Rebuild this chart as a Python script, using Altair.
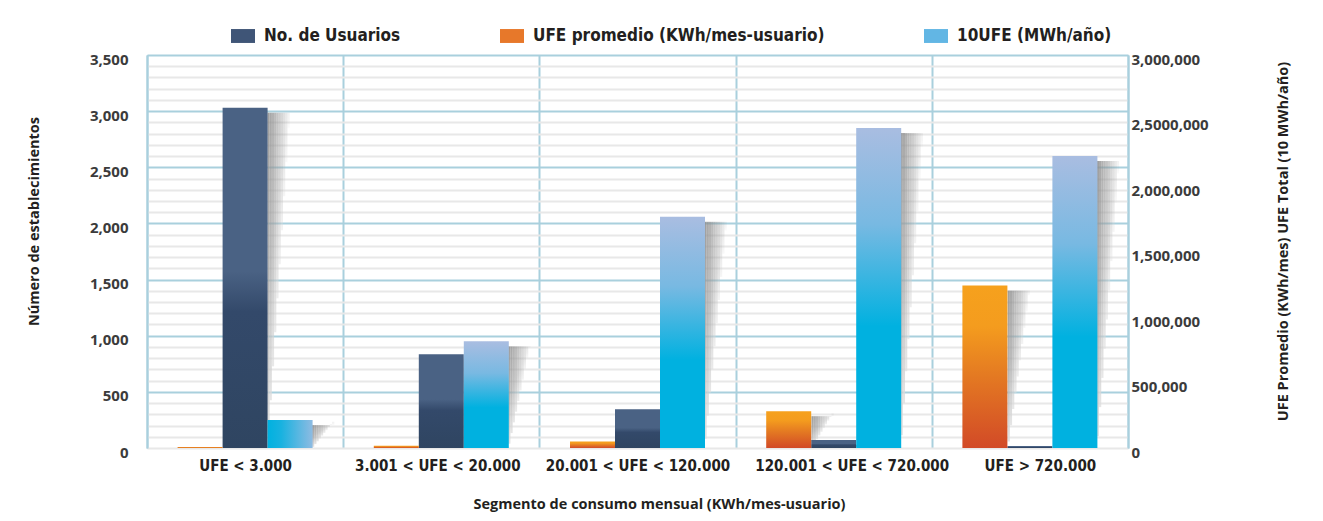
import altair as alt
import pandas as pd

categories = ["UFE < 3.000", "3.001 < UFE < 20.000", "20.001 < UFE < 120.000",
              "120.001 < UFE < 720.000", "UFE > 720.000"]
series_names = ["No. de Usuarios", "UFE promedio (KWh/mes-usuario)", "10UFE (MWh/año)"]
usuarios = [3030, 834, 346, 71, 18]
ufe_promedio = [7600, 17800, 50000, 281000, 1240000]
ufe_10 = [213000, 814000, 1765000, 2442000, 2229000]
left_ticks = list(range(0, 3501, 100))
right_ticks = [0, 500000, 1000000, 1500000, 2000000, 2500000, 3000000]
right_tick_labels = ["0", "500,000", "1,000,000", "1,500,000", "2,000,000", "2,5000,000", "3,000,000"]

rows = []
for i, c in enumerate(categories):
    rows.append({"cat": c, "series": series_names[0], "value": usuarios[i]})
    rows.append({"cat": c, "series": series_names[1], "value": ufe_promedio[i]})
    rows.append({"cat": c, "series": series_names[2], "value": ufe_10[i]})
df = pd.DataFrame(rows)

offset_order = [series_names[1], series_names[0], series_names[2]]

COND = "Liberation Sans Narrow, DejaVu Sans Condensed, Roboto, sans-serif"
REG = "Open Sans, Noto Sans, sans-serif"
BLUE_LINE = "#a9d0dd"

DARK = {"gradient": "linear", "x1": 0, "y1": 1, "x2": 0, "y2": 0,
        "stops": [{"offset": 0, "color": "#2f4561"}, {"offset": 0.4, "color": "#33496a"},
                  {"offset": 0.52, "color": "#4a6284"}, {"offset": 1, "color": "#4a6284"}]}
ORANGE = {"gradient": "linear", "x1": 0, "y1": 1, "x2": 0, "y2": 0,
          "stops": [{"offset": 0, "color": "#d24a27"}, {"offset": 0.45, "color": "#e47a22"},
                    {"offset": 0.75, "color": "#f49c1e"}, {"offset": 1, "color": "#f6a11d"}]}
BLUE = {"gradient": "linear", "x1": 0, "y1": 1, "x2": 0, "y2": 0,
        "stops": [{"offset": 0, "color": "#00b1e0"}, {"offset": 0.38, "color": "#00b1e0"},
                  {"offset": 0.7, "color": "#78b9e2"}, {"offset": 1, "color": "#a9bde1"}]}
BLUE_H = {"gradient": "linear", "x1": 0, "y1": 0, "x2": 1, "y2": 0,
          "stops": [{"offset": 0, "color": "#00b1e0"}, {"offset": 0.3, "color": "#18b2e0"},
                    {"offset": 1, "color": "#8ebbe2"}]}
SHADOW = {"gradient": "linear", "x1": 0, "y1": 0, "x2": 0, "y2": 1,
          "stops": [{"offset": 0, "color": "#8e8e8e"}, {"offset": 0.5, "color": "#a6a6a6"},
                    {"offset": 1, "color": "#dedede"}]}

label_shift = {"condition": [
    {"test": "datum.value === '" + categories[1] + "'", "value": -4},
    {"test": "datum.value === '" + categories[3] + "'", "value": 18},
    {"test": "datum.value === '" + categories[4] + "'", "value": 10}], "value": 0}

x_axis = alt.Axis(title="Segmento de consumo mensual (KWh/mes-usuario)", labelAngle=0,
                  ticks=False, domain=False, grid=True, gridColor=BLUE_LINE, gridWidth=2,
                  tickBand="extent", labelFont=COND, labelFontSize=15, labelFontWeight="bold",
                  labelColor="#231f20", labelPadding=10, labelLimit=400, labelOffset=label_shift,
                  titleFont=REG, titleFontSize=14.5,
                  titleFontWeight="bold", titleColor="#231f20", titleX=512, titleY=56,
                  titleBaseline="middle")

x_enc = alt.X("cat:N", sort=categories,
              scale=alt.Scale(domain=categories, paddingInner=0, paddingOuter=0), axis=x_axis)
xo_enc = alt.XOffset("series:N", scale=alt.Scale(domain=offset_order, paddingOuter=0.68, paddingInner=0))
slot_enc = alt.XOffset("slot:O", scale=alt.Scale(domain=list(range(88)), paddingOuter=0, paddingInner=0))
fade_enc = alt.Opacity("ks:Q", scale=alt.Scale(domain=[0, 9], range=[0.85, 0.12]), legend=None)

left_scale = alt.Scale(domain=[0, 3500], nice=False, zero=True)
right_scale = alt.Scale(domain=[0, 3000000], nice=False, zero=True)

left_axis = alt.Axis(values=left_ticks,
                     labelExpr="datum.value % 500 === 0 ? format(datum.value, ',') : ''",
                     grid=True,
                     gridColor={"condition": {"test": "datum.value % 500 === 0 && datum.value > 0",
                                              "value": BLUE_LINE}, "value": "#e8e8e8"},
                     gridWidth=2, ticks=False, domain=True, domainColor=BLUE_LINE, domainWidth=2,
                     labelFont=REG, labelFontSize=15, labelFontWeight="bold", labelColor="#3b3b3b",
                     labelPadding=19, labelOffset=4,
                     title="Número de establecimientos", titleFont=REG, titleFontSize=14.5,
                     titleFontWeight="bold", titleColor="#231f20", titleX=-106, titleY=166)

right_axis = alt.Axis(values=right_ticks, orient="right",
                      labelExpr="[" + ",".join("'" + s + "'" for s in right_tick_labels) + "][round(datum.value / 500000)]",
                      grid=False, ticks=False, domain=True, domainColor=BLUE_LINE, domainWidth=2,
                      labelFont=REG, labelFontSize=15, labelFontWeight="bold", labelColor="#3b3b3b",
                      labelPadding=3, labelOffset=4,
                      title="UFE Promedio (KWh/mes) UFE Total (10 MWh/año)", titleFont=REG,
                      titleFontSize=14.5, titleFontWeight="bold", titleColor="#231f20",
                      titleAngle=270, titleX=162, titleY=186)

base = alt.Chart(df)
is_users = alt.datum.series == series_names[0]
is_prom = alt.datum.series == series_names[1]
is_total = alt.datum.series == series_names[2]
is_right = (alt.datum.series == series_names[1]) | (alt.datum.series == series_names[2])

slot_expr = ("(datum.series === '" + series_names[1] + "' ? 34 : datum.series === '"
             + series_names[0] + "' ? 54 : 74) + datum.ks")


def shadow(filt, scale):
    return base.transform_filter(filt).transform_calculate(
        ks="[0, 1, 2, 3, 4, 5, 6, 7, 8, 9]").transform_flatten(["ks"]).transform_calculate(
        slot=slot_expr, y2v="datum.value * (datum.ks + 0.4) / 10").mark_bar(
        color=SHADOW, yOffset=5, clip=True).encode(
        x=x_enc, xOffset=slot_enc,
        y=alt.Y("value:Q", scale=scale, axis=None), y2="y2v:Q", opacity=fade_enc)


right_shadow = shadow(is_right, right_scale)
users_shadow = shadow(is_users, left_scale)

left_bars = base.transform_filter(is_users).mark_bar(color=DARK).encode(
    x=x_enc, xOffset=xo_enc, y=alt.Y("value:Q", scale=left_scale, axis=left_axis))
orange_bars = base.transform_filter(is_prom).mark_bar(color=ORANGE).encode(
    x=x_enc, xOffset=xo_enc, y=alt.Y("value:Q", scale=right_scale, axis=None))
blue_bars = base.transform_filter(is_total).mark_bar().encode(
    x=x_enc, xOffset=xo_enc, y=alt.Y("value:Q", scale=right_scale, axis=right_axis),
    color=alt.condition(alt.datum.cat == categories[0], alt.value(BLUE_H), alt.value(BLUE)))

legend_pts = base.transform_calculate(neg="-1000").mark_square(clip=True, opacity=1).encode(
    x=x_enc, xOffset=xo_enc,
    y=alt.Y("neg:Q", scale=left_scale, axis=None),
    color=alt.Color("series:N",
                    scale=alt.Scale(domain=series_names, range=["#3f5577", "#e7782a", "#62b6e4"]),
                    legend=alt.Legend(orient="none", legendX=84, legendY=-31, direction="horizontal",
                                      title=None, symbolType="M-1,-0.58H1V0.58H-1Z", symbolSize=576,
                                      symbolStrokeWidth=0, labelFont=COND, labelFontSize=17,
                                      labelFontWeight="bold", labelColor="#231f20", labelOffset=9,
                                      columnPadding=99, labelLimit=400)))

chart = alt.layer(right_shadow, users_shadow, left_bars, orange_bars, blue_bars,
                  legend_pts).resolve_scale(y="independent", xOffset="independent").properties(
    width=981, height=393,
    autosize=alt.AutoSizeParams(type="none"),
    padding={"left": 139, "top": 47, "right": 187, "bottom": 65},
).configure_view(stroke=None).configure(background="white")

chart.save("out.html", embed_options={"renderer": "svg", "actions": False})
